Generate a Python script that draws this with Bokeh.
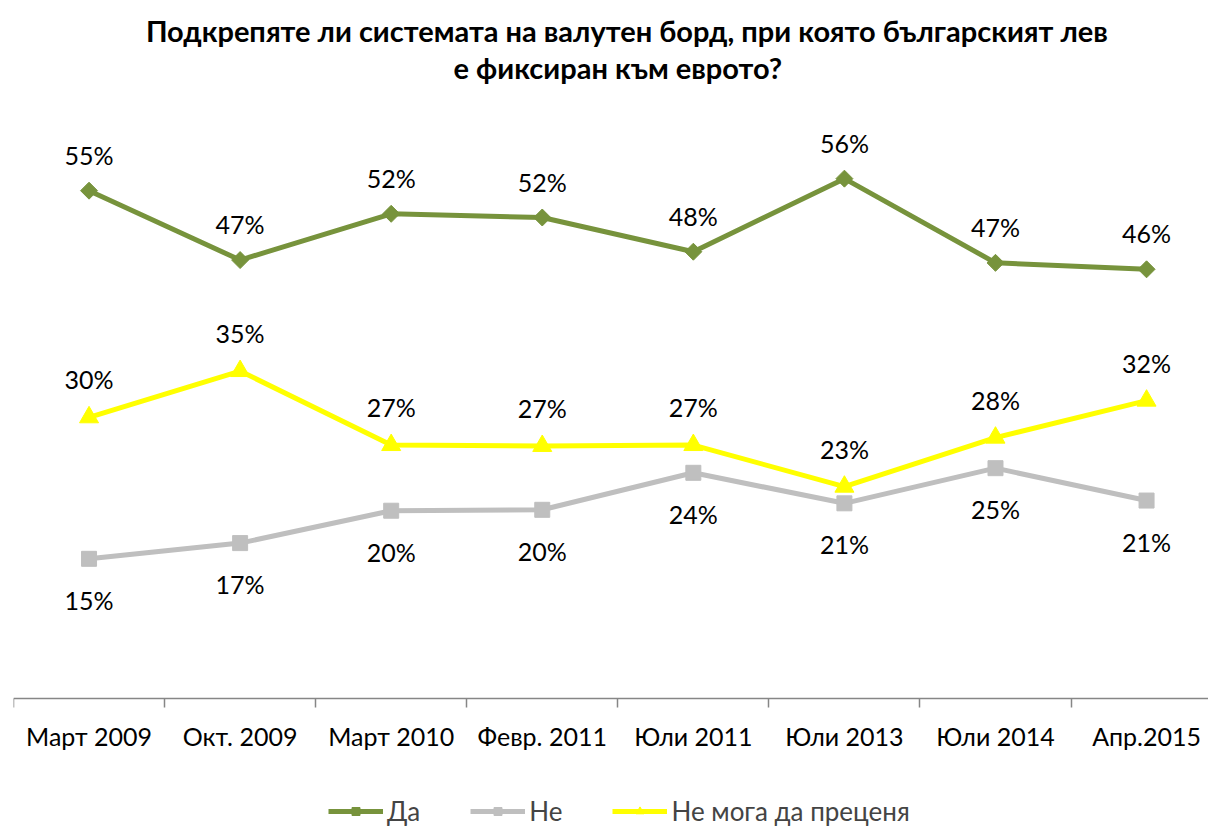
import numpy as np
from bokeh.plotting import figure
from bokeh.models import (ColumnDataSource, LabelSet, Label, Legend, LegendItem,
                          FixedTicker, Range1d)
from bokeh.core.properties import value
from bokeh.embed import file_html
from bokeh.resources import INLINE

categories = ["Март 2009", "Окт. 2009", "Март 2010", "Февр. 2011", "Юли 2011",
              "Юли 2013", "Юли 2014", "Апр.2015"]
da = [54.9, 47.4, 52.4, 52.0, 48.3, 56.2, 47.1, 46.4]
ne = [15.1, 16.8, 20.3, 20.4, 24.4, 21.1, 24.9, 21.4]
ne_moga = [30.4, 35.4, 27.4, 27.3, 27.4, 22.9, 28.2, 32.2]
series_names = ["Да", "Не", "Не мога да преценя"]
title_lines = ["Подкрепяте ли системата на валутен борд, при която българският лев",
               "е фиксиран към еврото?"]

FONT = "Lato"
GREEN = "#77933C"
GRAY = "#BFBFBF"
YELLOW = "#FFFF00"

x = list(range(len(categories)))

def src(vals):
    return ColumnDataSource(dict(x=x, y=vals, lbl=[f"{round(v)}%" for v in vals]))

s_da, s_ne, s_nm = src(da), src(ne), src(ne_moga)

PX_PER_PCT = 9.25
FRAME_H = 827
AXIS_FROM_TOP = 698
p = figure(frame_width=1195, frame_height=FRAME_H, output_backend="svg",
           toolbar_location=None,
           x_range=Range1d(-0.5, 7.41),
           y_range=Range1d(-(FRAME_H - AXIS_FROM_TOP) / PX_PER_PCT,
                           AXIS_FROM_TOP / PX_PER_PCT),
           min_border_left=13, min_border_right=0, min_border_top=0,
           min_border_bottom=0, title=None)
p.outline_line_color = None
p.xgrid.visible = False
p.ygrid.visible = False
p.yaxis.visible = False

# two-line title
for txt, tx, ty in [(title_lines[0], 3.56, 72.2), (title_lines[1], 3.50, 68.2)]:
    p.add_layout(Label(x=tx, y=ty, text=txt, text_align="center",
                       text_baseline="middle", text_font=FONT,
                       text_font_size="29px", text_font_style="bold",
                       text_color="black"))

ax = p.xaxis[0]
ax.fixed_location = 0
ax.ticker = FixedTicker(ticks=x, minor_ticks=[i - 0.5 for i in range(len(categories) + 1)])
ax.major_label_overrides = {i: c for i, c in enumerate(categories)}
ax.major_tick_out = 0
ax.major_tick_in = 0
ax.minor_tick_out = 9
ax.minor_tick_in = 0
ax.axis_line_color = "#868686"
ax.axis_line_width = 1.5
ax.minor_tick_line_color = "#868686"
ax.minor_tick_line_width = 1.5
ax.major_label_text_font = FONT
ax.major_label_text_font_size = "25px"
ax.major_label_text_color = "black"
ax.major_label_standoff = 13

l_da = p.line("x", "y", source=s_da, color=GREEN, line_width=5)
m_da = p.scatter("x", "y", source=s_da, marker="square", angle=np.pi / 4, size=12,
                 color=GREEN)
l_ne = p.line("x", "y", source=s_ne, color=GRAY, line_width=5)
m_ne = p.scatter("x", "y", source=s_ne, marker="square", size=15, color=GRAY)
l_nm = p.line("x", "y", source=s_nm, color=YELLOW, line_width=5)
m_nm = p.scatter("x", "y", source=s_nm, marker="triangle", size=19, color=YELLOW)

for s, off in [(s_da, 36), (s_ne, -41), (s_nm, 38)]:
    p.add_layout(LabelSet(x="x", y="y", text="lbl", source=s, y_offset=off,
                          text_align="center", text_baseline="middle",
                          text_font=value(FONT), text_font_size="25px",
                          text_color="black"))

legend = Legend(items=[LegendItem(label=series_names[0], renderers=[l_da, m_da]),
                       LegendItem(label=series_names[1], renderers=[l_ne, m_ne]),
                       LegendItem(label=series_names[2], renderers=[l_nm, m_nm])],
                orientation="horizontal", location=(315, 0), border_line_alpha=0,
                background_fill_alpha=0,
                glyph_width=55, label_text_font=FONT, label_text_font_size="26px",
                spacing=50, label_standoff=4, margin=0, padding=0)
p.add_layout(legend, "center")

open("out.html", "w").write(file_html(p, INLINE))
